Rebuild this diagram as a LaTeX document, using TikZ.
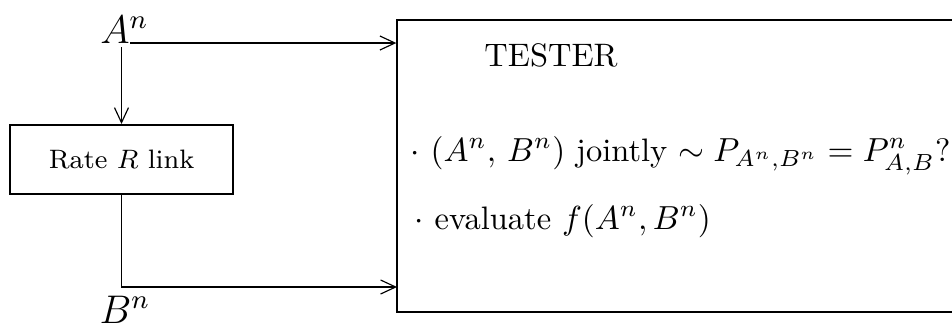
\documentclass[tikz,border=0pt]{standalone}
\usepackage{amsmath}
\usepackage{amssymb}
\usepackage{tikz}
\usetikzlibrary{arrows.meta,positioning,calc}

\begin{document}
\begin{tikzpicture}[
        x=0.3pt, y=-0.3pt,
        font=\fontsize{9.75pt}{11.5pt}\selectfont,
        block/.style={rectangle, draw, line width=0.6pt, inner sep=0pt},
        label/.style={font=\fontsize{12pt}{14pt}\selectfont, inner sep=1pt, anchor=base},
        item/.style={anchor=base west, inner sep=0pt},
        arrow/.style={-{Straight Barb[length=4.5pt,width=4.2pt]}, line width=0.35pt}
        ]
        \useasboundingbox (0,0) rectangle (952,325);

        \node[block, minimum width=66.9pt, minimum height=20.7pt,
              font=\fontsize{8pt}{10pt}\selectfont] (link) at (121.5,159.5) {Rate $R$ link};
        \node[block, minimum width=169pt, minimum height=87.6pt] (tester) at (679,166) {};

        \node[label] (an) at (124.5,43) {$A^n$};
        \node[label] (bn) at (125,323) {$B^n$};
        \coordinate (bend) at (397,287);

        \node (title) at (551,55) {TESTER};
        \node[item] (joint) at (410,161)
            {$\cdot$ $(A^n,\, B^n)$ jointly $\sim P_{A^n,B^n} = P^n_{A,B}$?};
        \node[item] (eval) at (414,229)
            {$\cdot$ evaluate $f(A^n,B^n)$};

        \draw[arrow] ([xshift=1.7pt]an.base) -- (an.base -| tester.west);
        \draw[arrow] (link.north |- an.south) -- (link.north);
        \draw[arrow] (link.south) |- (bend);
    \end{tikzpicture}
\end{document}
